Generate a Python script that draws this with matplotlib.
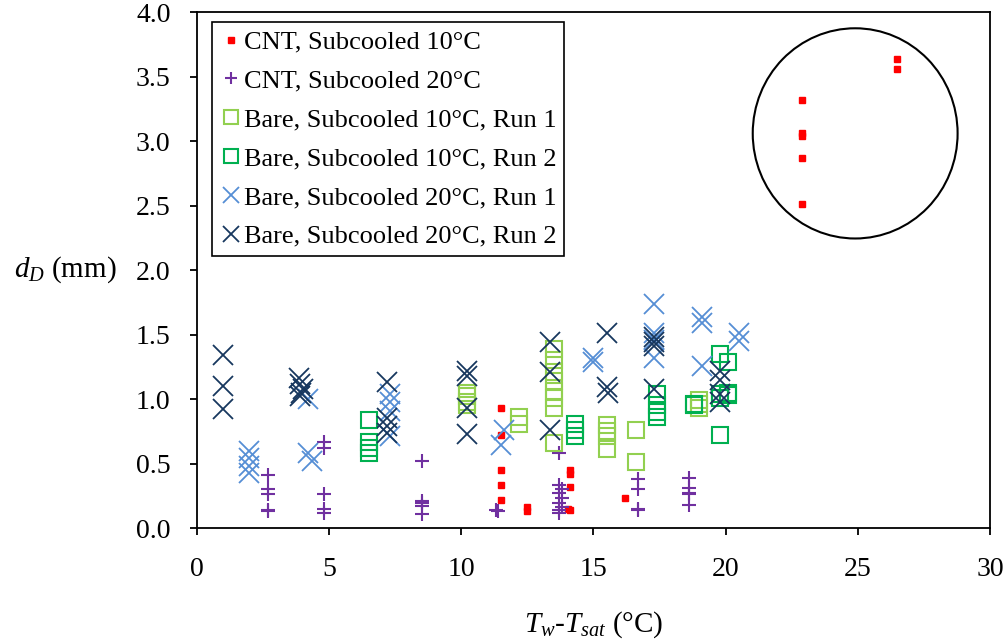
import matplotlib.pyplot as plt
from matplotlib.patches import Ellipse

plt.rcParams['font.family'] = ['Liberation Serif', 'DejaVu Serif']
plt.rcParams['mathtext.fontset'] = 'custom'
plt.rcParams['mathtext.rm'] = 'Liberation Serif'
plt.rcParams['mathtext.it'] = 'Liberation Serif:italic'

# CNT, subcooled 10 C (red squares)
cnt10_x = [11.5, 11.5, 11.5, 11.5, 11.5, 12.5, 12.5, 14.1, 14.1, 14.1, 14.05, 14.1, 16.2,
           22.9, 22.9, 22.9, 22.9, 22.9, 26.5, 26.5]
cnt10_y = [0.93, 0.72, 0.45, 0.33, 0.22, 0.16, 0.13, 0.45, 0.42, 0.32, 0.15, 0.14, 0.23,
           3.32, 3.06, 3.04, 2.87, 2.51, 3.64, 3.56]

# CNT, subcooled 20 C (purple plus)
cnt20_x = [2.7, 2.7, 2.7, 2.7, 2.7, 4.8, 4.8, 4.8, 4.8, 4.8,
           8.5, 8.5, 8.5, 8.5, 8.5, 11.3, 11.4,
           13.7, 13.7, 13.8, 13.7, 13.8, 13.7, 13.8, 13.7, 13.7,
           16.7, 16.7, 16.7, 16.7, 18.6, 18.6, 18.6, 18.6, 18.6]
cnt20_y = [0.41, 0.30, 0.26, 0.14, 0.13, 0.67, 0.62, 0.26, 0.15, 0.12,
           0.52, 0.21, 0.19, 0.17, 0.11, 0.14, 0.13,
           0.58, 0.33, 0.30, 0.27, 0.23, 0.19, 0.16, 0.14, 0.12,
           0.38, 0.30, 0.15, 0.14, 0.39, 0.31, 0.27, 0.26, 0.18]

# Bare, subcooled 10 C, run 1 (light green squares)
b10r1_x = [10.2, 10.2, 10.2, 10.2, 12.2, 12.2,
           13.5, 13.5, 13.5, 13.5, 13.5, 13.5, 13.5, 13.5,
           15.5, 15.5, 15.5, 15.5, 16.6, 16.6, 19.0, 19.0, 19.0]
b10r1_y = [1.05, 1.02, 0.98, 0.95, 0.86, 0.81,
           1.39, 1.30, 1.21, 1.14, 1.06, 1.01, 0.93, 0.66,
           0.80, 0.75, 0.71, 0.61, 0.76, 0.51, 0.99, 0.93, 0.96]

# Bare, subcooled 10 C, run 2 (green squares)
b10r2_x = [6.5, 6.5, 6.5, 6.5, 14.3, 14.3, 14.3,
           17.4, 17.4, 17.4, 17.4, 18.8, 18.8,
           19.8, 19.8, 19.8, 19.8, 20.1, 20.1, 20.1]
b10r2_y = [0.84, 0.67, 0.62, 0.58, 0.81, 0.76, 0.71,
           1.04, 0.95, 0.90, 0.86, 0.96, 0.95,
           1.35, 1.04, 1.01, 0.72, 1.29, 1.05, 1.03]

# Bare, subcooled 20 C, run 1 (light blue crosses)
b20r1_x = [1.95, 1.95, 1.95, 1.95, 4.2, 4.2, 4.35,
           7.3, 7.3, 7.3, 7.3, 11.6, 11.5, 15.0, 15.0,
           17.3, 17.3, 17.3, 17.3, 19.1, 19.1, 19.1, 20.5, 20.5]
b20r1_y = [0.60, 0.54, 0.48, 0.43, 1.00, 0.58, 0.52,
           1.04, 0.98, 0.91, 0.71, 0.76, 0.64, 1.32, 1.29,
           1.74, 1.51, 1.46, 1.32, 1.64, 1.59, 1.26, 1.51, 1.45]

# Bare, subcooled 20 C, run 2 (navy crosses)
b20r2_x = [1.0, 1.0, 1.0, 3.85, 3.9, 4.0, 3.95, 3.9,
           7.2, 7.2, 7.2, 7.2, 10.2, 10.2, 10.2, 10.2,
           13.35, 13.35, 13.35, 15.5, 15.5, 15.55,
           17.3, 17.3, 17.3, 17.3, 19.8, 19.8, 19.8, 19.8]
b20r2_y = [1.34, 1.10, 0.92, 1.16, 1.12, 1.08, 1.05, 1.02,
           1.13, 0.85, 0.79, 0.74, 1.22, 1.18, 0.93, 0.73,
           1.44, 1.21, 0.76, 1.51, 1.09, 1.05,
           1.48, 1.44, 1.41, 1.08, 1.22, 1.15, 1.04, 0.98]

fig = plt.figure(figsize=(10.07, 6.4), dpi=100)
ax = fig.add_axes([0.1956, 0.175, 0.7875, 0.806])

ax.plot(cnt10_x, cnt10_y, ls='none', marker='s', ms=5, color='#FF0000',
        mec='#FF0000', label='CNT, Subcooled 10°C')
ax.plot(cnt20_x, cnt20_y, ls='none', marker='+', ms=10, mew=1.5, color='#7030A0',
        label='CNT, Subcooled 20°C')
ax.plot(b10r1_x, b10r1_y, ls='none', marker='s', ms=12, mew=1.5, mfc='none',
        mec='#92D050', label='Bare, Subcooled 10°C, Run 1')
ax.plot(b10r2_x, b10r2_y, ls='none', marker='s', ms=12, mew=1.5, mfc='none',
        mec='#00B050', label='Bare, Subcooled 10°C, Run 2')
ax.plot(b20r1_x, b20r1_y, ls='none', marker='x', ms=14, mew=1.3, color='#558ED5',
        label='Bare, Subcooled 20°C, Run 1')
ax.plot(b20r2_x, b20r2_y, ls='none', marker='x', ms=14, mew=1.3, color='#17375E',
        label='Bare, Subcooled 20°C, Run 2')

# circle around the high CNT points
ax.add_patch(Ellipse((24.9, 3.06), 7.75, 1.63, fill=False, edgecolor='black', lw=1.5))

ax.set_xlim(0, 30)
ax.set_ylim(0, 4.0)
ax.set_xticks(range(0, 31, 5))
ax.set_yticks([i * 0.5 for i in range(9)])
ax.set_yticklabels([f'{i * 0.5:.1f}' for i in range(9)])
ax.tick_params(axis='both', direction='out', length=5, width=1.3, labelsize=20)
ax.tick_params(axis='y', pad=14)
ax.tick_params(axis='x', pad=16)
for s in ax.spines.values():
    s.set_linewidth(1.3)

ax.set_xlabel(r'$T_w$-$T_{sat}$ (°C)', fontsize=21, va='center', ha='center')
ax.xaxis.set_label_coords(0.5, -0.188)
ax.set_ylabel(r'$d_D$ (mm)', fontsize=21, rotation=0, va='center', ha='center')
ax.yaxis.set_label_coords(-0.166, 0.5)

leg = ax.legend(loc='upper left', bbox_to_anchor=(0.019, 0.98), fontsize=19,
                frameon=True, fancybox=False, edgecolor='black', framealpha=1,
                handlelength=0.8, handletextpad=0.1, labelspacing=0.58,
                borderpad=0.3, borderaxespad=0, markerscale=0.85)
leg.get_frame().set_linewidth(1.2)

fig.savefig('out.png', dpi=100)
